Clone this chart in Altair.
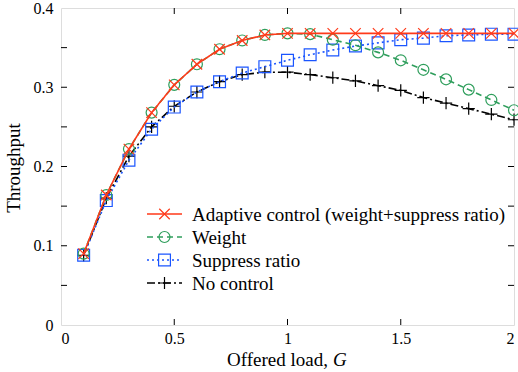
import altair as alt
import pandas as pd

# ---- data ----
G = [0.1, 0.2, 0.3, 0.4, 0.5, 0.6, 0.7, 0.8, 0.9, 1.0,
     1.1, 1.2, 1.3, 1.4, 1.5, 1.6, 1.7, 1.8, 1.9, 2.0]
adaptive = [0.090, 0.164, 0.222, 0.268, 0.303, 0.329, 0.348, 0.359, 0.366, 0.368,
            0.368, 0.368, 0.368, 0.368, 0.368, 0.368, 0.368, 0.368, 0.368, 0.368]
weight = [0.090, 0.164, 0.222, 0.268, 0.303, 0.329, 0.348, 0.359, 0.366, 0.368,
          0.367, 0.360, 0.353, 0.344, 0.334, 0.322, 0.310, 0.297, 0.284, 0.271]
suppress = [0.088, 0.157, 0.208, 0.247, 0.275, 0.294, 0.307, 0.318, 0.326, 0.334,
            0.341, 0.347, 0.352, 0.356, 0.360, 0.362, 0.365, 0.366, 0.367, 0.367]
nocontrol = [0.088, 0.160, 0.213, 0.250, 0.276, 0.294, 0.307, 0.316, 0.319, 0.319,
             0.316, 0.312, 0.308, 0.302, 0.296, 0.287, 0.280, 0.273, 0.266, 0.259]

labels = ["Adaptive control (weight+suppress ratio)", "Weight", "Suppress ratio", "No control"]
series_values = [adaptive, weight, suppress, nocontrol]
colors = ["#ff3a1a", "#2f9e5c", "#1a55ff", "#000000"]
dashes = [[1, 0], [6, 4], [2, 3], [8, 3, 2, 3]]
shapes = ["M-1,-1L1,1M-1,1L1,-1", "circle", "square", "M-1,0L1,0M0,-1L0,1"]
sizes = [110, 120, 140, 150]

x_labels = [0, 0.5, 1, 1.5, 2]
y_labels = [0, 0.1, 0.2, 0.3, 0.4]
x_minor = [0.5, 1.0, 1.5]
y_minor = [0.05, 0.1, 0.15, 0.2, 0.25, 0.3, 0.35]

rows = []
for lab, vals in zip(labels, series_values):
    for g, v in zip(G, vals):
        rows.append({"series": lab, "G": g, "T": v})
df = pd.DataFrame(rows)

W, H = 453, 317
FONT = "Liberation Serif"
TXT = 19
TICK = 16

xs = alt.Scale(domain=[0, 2], nice=False, zero=False)
ys = alt.Scale(domain=[0, 0.4], nice=False)
xaxis = alt.Axis(values=x_labels, format="~g", title=None, ticks=False, domain=False,
                 grid=False, labelPadding=5, labelFontSize=TICK, labelFont=FONT,
                 labelColor="black")
yaxis = alt.Axis(values=y_labels, format="~g", title=None, ticks=False, domain=False,
                 grid=False, labelPadding=8, labelFontSize=TICK, labelFont=FONT,
                 labelColor="black")

layers = []
order = [3, 2, 1, 0]
for i in order:
    sub = alt.Chart(df).transform_filter(alt.datum.series == labels[i])
    enc = dict(x=alt.X("G:Q", scale=xs, axis=xaxis), y=alt.Y("T:Q", scale=ys, axis=yaxis))
    layers.append(sub.mark_line(color=colors[i], strokeDash=dashes[i], strokeWidth=1.6).encode(**enc))
    layers.append(sub.mark_point(shape=shapes[i], filled=False, color=colors[i], size=sizes[i],
                                 strokeWidth=1.2, opacity=1).encode(**enc))

# inward ticks on all four sides
ytick_df = pd.DataFrame({"v": y_minor})
xtick_df = pd.DataFrame({"v": x_minor})
for xa, xb in [(0, 6), (W - 6, W)]:
    layers.append(alt.Chart(ytick_df).mark_rule(color="black", strokeWidth=1).encode(
        y=alt.Y("v:Q", scale=ys, axis=yaxis), x=alt.value(xa), x2=alt.value(xb)))
for ya, yb in [(H, H - 6), (0, 6)]:
    layers.append(alt.Chart(xtick_df).mark_rule(color="black", strokeWidth=1).encode(
        x=alt.X("v:Q", scale=xs, axis=xaxis), y=alt.value(ya), y2=alt.value(yb)))

# legend
leg_y = [206, 229, 252, 275]
for i in range(4):
    ld = pd.DataFrame({"label": [labels[i]]})
    base = alt.Chart(ld)
    layers.append(base.mark_rule(color=colors[i], strokeDash=dashes[i], strokeWidth=1.6).encode(
        x=alt.value(86), x2=alt.value(121), y=alt.value(leg_y[i])))
    layers.append(base.mark_point(shape=shapes[i], filled=False, color=colors[i], size=sizes[i],
                                  strokeWidth=1.2, opacity=1).encode(
        x=alt.value(103.5), y=alt.value(leg_y[i])))
    layers.append(base.mark_text(align="left", baseline="middle", font=FONT, fontSize=TXT,
                                 color="black").encode(
        text="label:N", x=alt.value(131), y=alt.value(leg_y[i] + 1)))

# axis titles
t1 = pd.DataFrame({"t": ["Throughput"]})
layers.append(alt.Chart(t1).mark_text(angle=270, align="center", baseline="middle", font=FONT,
                                      fontSize=TXT, color="black").encode(
    text="t:N", x=alt.value(-47), y=alt.value(160)))
t2 = pd.DataFrame({"t": ["Offered load,"]})
layers.append(alt.Chart(t2).mark_text(align="left", baseline="middle", font=FONT,
                                      fontSize=TXT, color="black").encode(
    text="t:N", x=alt.value(166), y=alt.value(352)))
t3 = pd.DataFrame({"t": ["G"]})
layers.append(alt.Chart(t3).mark_text(align="left", baseline="middle", font=FONT,
                                      fontSize=TXT, fontStyle="italic", color="black").encode(
    text="t:N", x=alt.value(272), y=alt.value(352)))

chart = alt.layer(*layers).properties(
    width=W, height=H,
    autosize=alt.AutoSizeParams(type="none"),
    padding={"left": 61, "top": 8, "right": 4, "bottom": 47},
).configure_view(stroke="black", strokeWidth=1.2).configure(background="white")

chart.save("out.html", embed_options={"renderer": "svg", "actions": False})
